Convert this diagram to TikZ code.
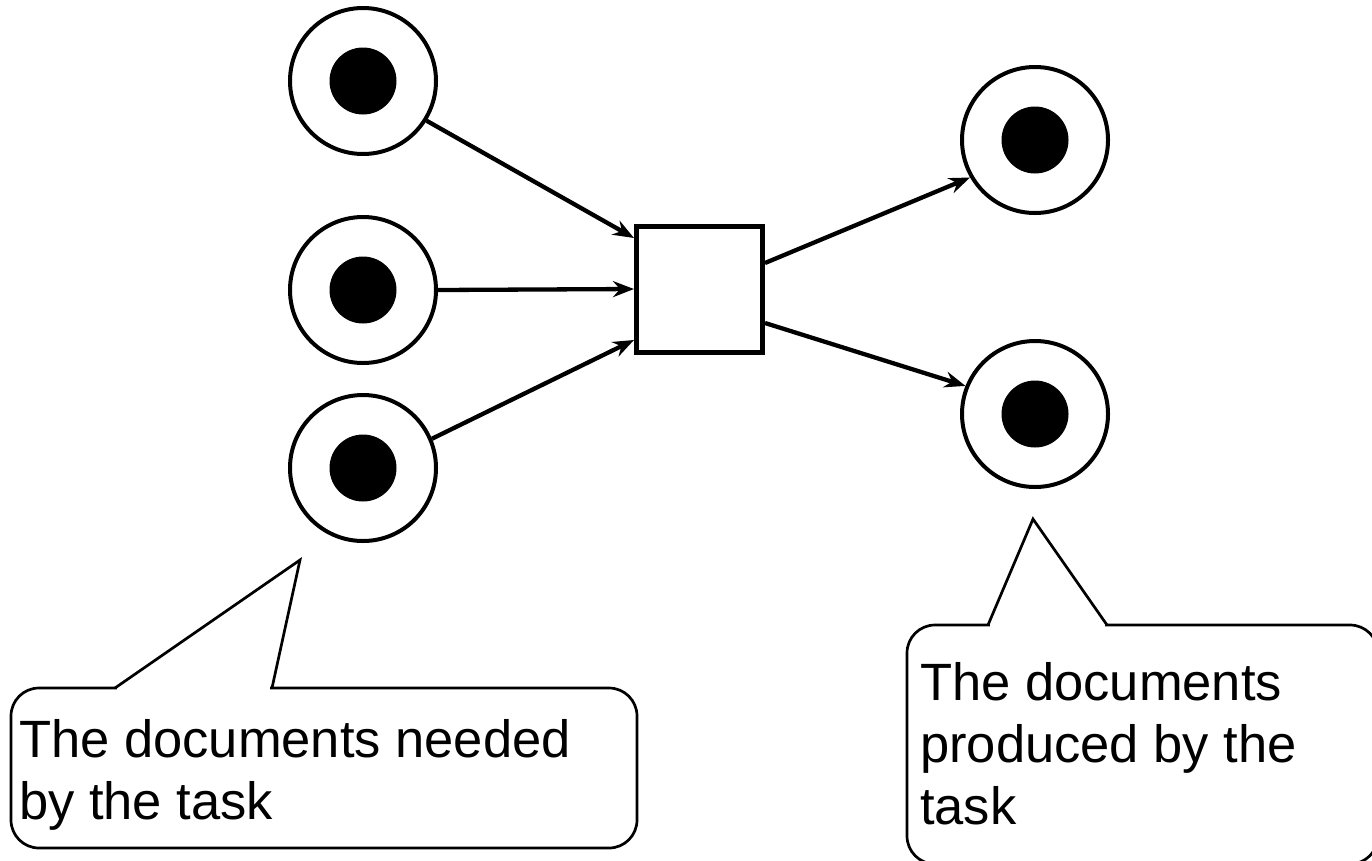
\documentclass[tikz,border=0pt]{standalone}
\usepackage{fontspec}
\setmainfont{Liberation Sans}
\usetikzlibrary{arrows.meta}
\begin{document}
\begin{tikzpicture}[x=1pt,y=-1pt,
  place/.style={circle,draw,line width=4pt,minimum size=146pt,inner sep=0pt},
  token/.style={circle,fill=black,minimum size=67pt,inner sep=0pt},
  trans/.style={rectangle,draw,line width=5pt,minimum size=126pt,inner sep=0pt},
  arc/.style={line width=4.3pt,-{Stealth[length=21pt,width=16pt,inset=7pt]}},
  callout/.style={line width=2.7pt,rounded corners=28pt},
  txt/.style={anchor=base west,inner sep=0pt,font=\fontsize{52.5}{62}\selectfont}]
\useasboundingbox (0,0) rectangle (1372,860);
% places
\node[place] (P1) at (363,81) {};
\node[place] (P2) at (363,290) {};
\node[place] (P3) at (363,468) {};
\node[place] (P4) at (1035,140) {};
\node[place] (P5) at (1035,414) {};
\node[token] (K1) at (P1) {};
\node[token] (K2) at (P2) {};
\node[token] (K3) at (P3) {};
\node[token] (K4) at (P4) {};
\node[token] (K5) at (P5) {};
% transition
\node[trans] (T) at (699.5,289) {};
% arcs
\draw[arc] (P1.-32) -- ([yshift=51pt]T.west);
\draw[arc] (P2.east) -- (T.west);
\draw[arc] (P3.23) -- ([yshift=-51pt]T.west);
\draw[arc] ([yshift=26pt]T.east) -- (P4.210);
\draw[arc] ([yshift=-34pt]T.east) -- (P5.158);
% left callout
\draw[callout] (11,688) rectangle (637,848);
\draw[white,line width=4pt] (117,688) -- (270,688);
\coordinate (LT) at (300,560);
\draw[line width=2.7pt,line join=miter] (115,688) -- (LT) -- (272,688);
\node[txt] (L1) at (19,757) {The documents needed};
\node[txt] (L2) at (19,819) {by the task};
% right callout
\draw[callout] (907,625) rectangle (1378,864);
\draw[white,line width=4pt] (990,625) -- (1105,625);
\coordinate (RT) at (1033,519);
\draw[line width=2.7pt,line join=miter] (988,625) -- (RT) -- (1107,625);
\node[txt] (R1) at (920,700) {The documents};
\node[txt] (R2) at (920,762) {produced by the};
\node[txt] (R3) at (920,824) {task};
\end{tikzpicture}
\end{document}
